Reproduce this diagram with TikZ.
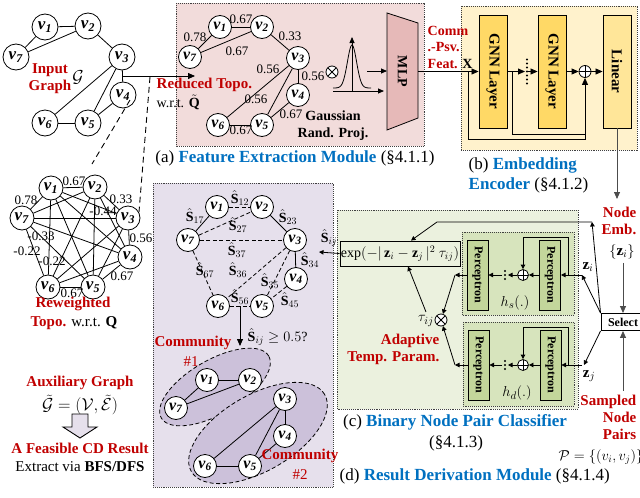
\documentclass[tikz,border=0pt]{standalone}
\usepackage{fontspec}
\setmainfont{Liberation Serif}
\usepackage{amsmath,amssymb}
\usetikzlibrary{arrows.meta,calc,positioning}

\definecolor{redtxt}{RGB}{192,0,0}
\definecolor{bluetxt}{RGB}{0,112,192}
\definecolor{pinkbg}{RGB}{242,220,219}
\definecolor{mlpfill}{RGB}{230,185,184}
\definecolor{yellowbg}{RGB}{255,242,204}
\definecolor{gnnfill}{RGB}{255,217,102}
\definecolor{linfill}{RGB}{255,230,153}
\definecolor{lavbg}{RGB}{230,224,236}
\definecolor{ellfill}{RGB}{204,193,218}
\definecolor{greenbg}{RGB}{235,241,222}
\definecolor{hgreen}{RGB}{215,228,189}
\definecolor{percfill}{RGB}{195,214,155}

\newcommand{\fsz}[1]{\fontsize{#1}{#1}\selectfont}
\newcommand{\vlab}[1]{\textbf{\textit{v}}\textsubscript{\textbf{\textit{#1}}}}

\begin{document}
\begin{tikzpicture}[x=1pt,y=-1pt,>={Triangle[length=7pt,width=6pt]},
  vnode/.style={circle,draw,fill=white,line width=0.8pt,minimum size=24pt,inner sep=0pt,font=\fsz{17}},
  wt/.style={inner sep=0.5pt,font=\fsz{13}},
  redlbl/.style={text=redtxt,font=\fontsize{15}{17}\selectfont\bfseries,align=center},
  captxt/.style={font=\fontsize{17}{20}\selectfont},
  panel/.style={draw=black!75,densely dotted,line width=0.9pt},
  layer/.style={draw,line width=0.9pt,minimum width=28pt,minimum height=113pt,inner sep=0pt,font=\fsz{15}\bfseries},
  percep/.style={draw,line width=1pt,fill=percfill,minimum width=21pt,minimum height=70pt,inner sep=0pt,font=\fsz{12}\bfseries},
  oplus/.style={circle,draw,fill=white,line width=0.8pt,minimum size=12pt,inner sep=0pt,
    path picture={\draw (path picture bounding box.north) -- (path picture bounding box.south)
      (path picture bounding box.west) -- (path picture bounding box.east);}},
  otimes/.style={circle,draw,fill=white,line width=0.8pt,minimum size=12pt,inner sep=0pt,
    path picture={\draw (path picture bounding box.north west) -- (path picture bounding box.south east)
      (path picture bounding box.north east) -- (path picture bounding box.south west);}},
  sm/.style={-{Triangle[length=4.5pt,width=4.5pt]}},
  md/.style={-{Triangle[length=6pt,width=5pt]}},
  sdash/.style={dash pattern=on 4pt off 2.5pt},
  zoomline/.style={dash pattern=on 6pt off 4pt,line width=0.9pt},
  line width=0.8pt]
\useasboundingbox (0,0) rectangle (640,498);

% panels
\path[panel,fill=pinkbg] (176,3) rectangle (424,146);
\path[panel,fill=yellowbg] (461,6) rectangle (637,150);
\path[panel,fill=lavbg] (153,183) rectangle (333,487);
\path[panel,fill=greenbg] (337,210) rectangle (578,409);
\path[panel,fill=hgreen] (462,232) rectangle (574,315);
\path[panel,fill=hgreen] (463,322) rectangle (574,406);

% input graph
\foreach \n/\x/\y in {1/45/27,2/88/26,3/122/57,4/123/95,5/88/123,6/45/123,7/16/57}
  \node[vnode,minimum size=26pt] (in\n) at (\x,\y) {\vlab{\n}};
\foreach \a/\b in {1/2,1/7,7/2,2/3,3/4,3/6,3/5,4/5,6/5}
  \draw (in\a) -- (in\b);
\node[redlbl] (inlbl) at (50,79) {Input\\Graph};
\node[font=\fsz{16}] (ing) at (78,77) {$\mathcal{G}$};

% zoom into the reweighted topology
\coordinate (tap) at ($(in3)!0.5!(in4)$);
\coordinate (zoomA) at (130,100);
\coordinate (zoomB) at (92,164);
\coordinate (zoomC) at (150,77);
\coordinate (zoomD) at (139,212);
\draw[zoomline] (zoomA) -- (zoomB);
\draw[zoomline] (zoomC) -- (zoomD);

% reweighted topology
\foreach \n/\x/\y in {1/51/188,2/95/187,3/128/218,4/130/257,5/93/287,6/48/287,7/22/218}
  \node[vnode] (rw\n) at (\x,\y) {\vlab{\n}};
\foreach \a in {1,...,6}{
  \pgfmathtruncatemacro{\nx}{\a+1}
  \foreach \b in {\nx,...,7} \draw (rw\a) -- (rw\b);
}
\foreach \w/\x/\y [count=\k] in {0.67/74/181,0.78/26/200,0.33/121/199,-0.44/103/211,0.56/141/238,
    -0.33/41/236,-0.22/27/251,-0.22/52/261,0.67/122/276,0.67/72/293}
  \node[wt] (rww\k) at (\x,\y) {\w};
\node[redlbl] (rwlbl) at (73,304) {Reweighted};
\node[font=\fsz{15}] (rwq) at (74,323) {\textcolor{redtxt}{\textbf{Topo.}} w.r.t. $\mathbf{Q}$};

% auxiliary graph and result
\node[redlbl] (aux) at (80,383) {Auxiliary Graph};
\node[font=\fsz{16}] (auxg) at (80,405) {$\tilde{\mathcal{G}}=(\mathcal{V},\tilde{\mathcal{E}})$};
\draw[fill=lavbg,line width=0.9pt] (72,414) -- (88,414) -- (88,427) -- (97,427) -- (80,438)
  -- (63,427) -- (72,427) -- cycle;
\node[redlbl] (feas) at (80,448) {A Feasible CD Result};
\node[font=\fsz{15}] (extr) at (80,467) {Extract via \textbf{BFS/DFS}};

% (a) feature extraction
\coordinate (rdin) at (195,76);
\draw[->] (tap) -- (rdin);
\node[redlbl,anchor=west] (redtopo) at (153,85) {Reduced Topo.};
\node[font=\fsz{14},anchor=west] (redq) at (153,102) {w.r.t. $\tilde{\mathbf{Q}}$};
\foreach \n/\x/\y in {1/220/27,2/262/27,3/298/58,4/298/95,5/262/125,6/218/125,7/190/57}
  \node[vnode,minimum size=23pt,font=\fsz{16}] (rd\n) at (\x,\y) {\vlab{\n}};
\foreach \a/\b/\w/\x/\y in {1/2/0.67/241/19,1/7/0.78/195/37,7/2/0.67/237/51,2/3/0.33/290/36,
    3/4/0.56/313/76,3/6/0.56/268/69,3/5/0.56/256/99,4/5/0.67/291/114,6/5/0.67/241/130}{
  \draw (rd\a) -- (rd\b);
  \node[wt] (rdw\a\b) at (\x,\y) {\w};
}
\node[otimes] (proj) at (332,72) {};
\draw[domain=-19:19,samples=50,smooth] plot ({352+\x},{88-43*exp(-(\x/6.5)^2)});
\draw[md] (352,91) -- (352,37);
\draw[md] (333,91) -- (384,91);
\node[font=\fontsize{14}{17}\selectfont\bfseries,align=center] (gauss) at (333,126) {Gaussian\\Rand. Proj.};
\draw[fill=mlpfill] (387,13) -- (418,23) -- (418,118) -- (387,130) -- cycle;
\node[font=\fsz{14}\bfseries] (mlp) at (402.5,71.5) {\rotatebox{-90}{MLP}};
\coordinate (mlpin) at (387,71);
\draw[md] (367,71) -- (mlpin);
\node[captxt] (capa) at (295,158) {(a) \textcolor{bluetxt}{\textbf{Feature Extraction Module}} (§4.1.1)};

% (b) embedding encoder
\coordinate (mlpout) at (418,71.5);
\node[layer,fill=gnnfill] (gnn1) at (493,71.5) {\rotatebox{-90}{GNN Layer}};
\node[layer,fill=gnnfill] (gnn2) at (552,71.5) {\rotatebox{-90}{GNN Layer}};
\node[layer,fill=linfill] (lin) at (617,71.5) {\rotatebox{-90}{Linear}};
\node[oplus] (add) at (585,71.5) {};
\node[redlbl,align=left,anchor=west,font=\fontsize{14}{16.5}\selectfont\bfseries] (featx) at (424,47)
  {Comm\\.-Psv.\\Feat. \textcolor{black}{$\mathbf{X}$}};
\draw[->] (mlpout) -- (gnn1.west);
\coordinate (dotsE) at (527,71.5);
\foreach \k in {-12,-8,...,12} \fill ($(dotsE)+(0,\k)$) circle (1.2pt);
\draw[->] (gnn1.east) -- ($(dotsE)+(-2,0)$);
\draw[->] (dotsE) -- (gnn2.west);
\draw[->] (gnn2.east) -- (add.west);
\draw[->] (add.east) -- (lin.west);
\draw[->] (468,71.5) -- (468,139) -| (add.south);
\draw (512,71.5) |- (585,134);
\coordinate (embtip) at (617,199);
\draw[->,draw=black!70] (lin.south) -- (embtip);
\node[captxt,anchor=west,align=left] (capb) at (465,175)
  {(b) \textcolor{bluetxt}{\textbf{Embedding}}\\\textcolor{bluetxt}{\textbf{Encoder}} (§4.1.2)};

% node embeddings, sampling and select
\node[redlbl,align=right,anchor=north east] (emb) at (640,203) {Node\\Emb.};
\node[font=\fsz{15}] (zset) at (622,252) {$\{\mathbf{z}_i\}$};
\node[draw,fill=white,line width=0.9pt,minimum width=44pt,minimum height=17pt,inner sep=1pt,
  font=\fsz{12}\bfseries] (sel) at (623,322) {Select};
\node[redlbl,align=right,anchor=east] (samp) at (640,417) {Sampled\\Node\\Pairs};
\node[font=\fsz{14}] (pset) at (601,457) {$\mathcal{P}=\{(v_i,v_j)\}$};
\draw[->,draw=black!70] (zset.south -| sel) -- (sel.north);
\draw[->,draw=black!70] (samp.north -| sel) -- (sel.south);

% (c) binary node pair classifier
\node[percep] (hsL) at (477.5,275) {\rotatebox{-90}{Perceptron}};
\node[percep] (hsR) at (550,275) {\rotatebox{-90}{Perceptron}};
\node[percep] (hdL) at (478.5,365) {\rotatebox{-90}{Perceptron}};
\node[percep] (hdR) at (550.5,365) {\rotatebox{-90}{Perceptron}};
\node[oplus,minimum size=11pt] (hsA) at (523,275) {};
\node[oplus,minimum size=11pt] (hdA) at (523,365) {};
\node[font=\fsz{15}] (hslbl) at (515,303) {$h_s(.)$};
\node[font=\fsz{15}] (hdlbl) at (517,393) {$h_d(.)$};
\coordinate (zi) at (582,275);
\coordinate (zj) at (584,365);
\coordinate (top) at (592,222);
\coordinate (hsout) at (455,275);
\coordinate (hdout) at (455,365);
\node[font=\fsz{15}] (zil) at (588,267) {$\mathbf{z}_i$};
\node[font=\fsz{15}] (zjl) at (589,376) {$\mathbf{z}_j$};
\draw[sm] (sel.north west) -- (zi);
\draw[sm] (sel.south west) -- (zj);
\draw[sm] (sel.north west) -- (top);
\foreach \h/\y/\u in {s/275/237,d/365/327}{
  \draw[sm] (zi |- 0,\y) -- (h\h R.east);
  \draw[sm] (568,\y) -- (568,\u) -| (h\h A.north);
  \draw[sm] (h\h R.west) -- (h\h A.east);
  \draw[sm] (h\h A.west) -- (508,\y);
  \foreach \k in {-4,0,4} \fill (505,\y+\k) circle (1.1pt);
  \draw[sm] (502,\y) -- (h\h L.east);
  \draw[sm] (h\h L.west) -- (h\h out);
}
\node[otimes] (otim) at (441,320) {};
\draw[sm] (hsout) -- (otim);
\draw[sm] (hdout) -- (otim);
\node[font=\fsz{15}] (tau) at (426,321) {$\tau_{ij}$};
\node[draw,line width=0.9pt,fill=greenbg,minimum width=117pt,minimum height=25pt,inner sep=1pt,
  font=\fsz{14}] (expb) at (400,253.5) {$\exp(-|\,\mathbf{z}_i-\mathbf{z}_j\,|^2\ \tau_{ij})$};
\draw[sm] (tau.north) -- ($(expb.south)+(8,0)$);
\draw[sm] (top) -- (437,222) -- ($(expb.north)+(11,0)$);
\node[redlbl,align=right,anchor=east] (adapt) at (443,349) {Adaptive\\Temp. Param.};
\node[captxt] (capc) at (455,422) {(c) \textcolor{bluetxt}{\textbf{Binary Node Pair Classifier}}};
\node[captxt] (capc2) at (456,443) {(§4.1.3)};

% (d) result derivation
\coordinate (sij) at (319,252);
\draw[sm] (expb.west) -- (sij);
\node[font=\fsz{14}] (sijl) at (329,238) {$\hat{\mathbf{S}}_{ij}$};
\foreach \n/\x/\y in {1/217/207,2/262/207,3/295/240,4/296/279,5/262/306,6/218/306,7/188/240}
  \node[vnode,minimum size=23pt,font=\fsz{16}] (s\n) at (\x,\y) {\vlab{\n}};
\foreach \a/\b in {1/7,2/3,3/4} \draw (s\a) -- (s\b);
\foreach \a/\b in {1/2,7/2,7/3,7/6,3/6,3/5,4/5,6/5} \draw[sdash] (s\a) -- (s\b);
\foreach \i/\x/\y in {12/240/198,17/195/216,27/238/225,23/288/217,37/237/250,34/310/260,
    67/205/270,36/238/270,35/270/281,45/290/300,56/240/297}
  \node[font=\fsz{14},inner sep=0pt] (sl\i) at (\x,\y) {$\hat{\mathbf{S}}_{\i}$};
\coordinate (dec) at (240,346);
\draw[->] ($(s6)!0.5!(s5)$) -- (dec);
\node[font=\fsz{14},anchor=west] (thr) at (244,337) {$\hat{\mathbf{S}}_{ij}\geq 0.5$?};

\draw[sdash,fill=ellfill,rotate around={30:(215,387)}] (215,387) ellipse [x radius=62pt,y radius=27pt];
\draw[sdash,fill=ellfill,rotate around={30:(258,433)}] (258,433) ellipse [x radius=77pt,y radius=38pt];
\foreach \n/\x/\y in {1/207/380,2/250/380,3/285/399,4/285/436,5/250/466,6/205/466,7/176/408}
  \node[vnode,minimum size=23pt,font=\fsz{16}] (c\n) at (\x,\y) {\vlab{\n}};
\foreach \a/\b in {1/2,1/7,7/2,3/4,3/6,3/5,4/5,6/5} \draw (c\a) -- (c\b);
\node[redlbl] (com1) at (193,343) {Community};
\node[text=redtxt,font=\fsz{15}] (com1n) at (191,362) {\#1};
\node[redlbl] (com2) at (300,456) {Community};
\node[text=redtxt,font=\fsz{15}] (com2n) at (300,475) {\#2};
\node[captxt,anchor=west] (capd) at (336,476) {(d) \textcolor{bluetxt}{\textbf{Result Derivation Module}} (§4.1.4)};
\end{tikzpicture}
\end{document}
